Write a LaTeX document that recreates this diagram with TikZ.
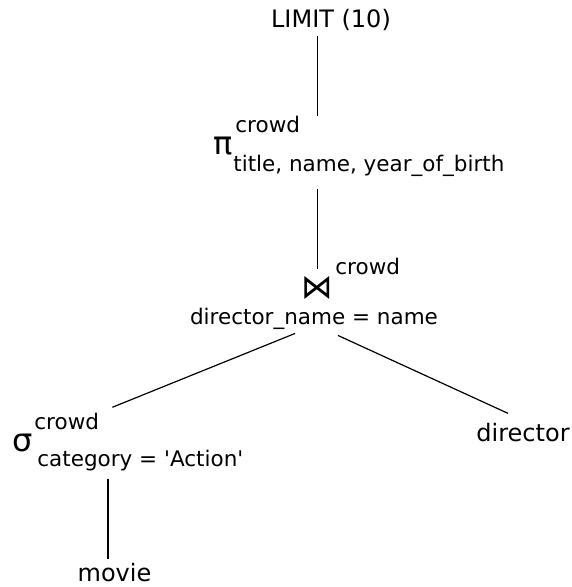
\documentclass[tikz,border=0pt]{standalone}
\usepackage{fontspec}
\setmainfont{DejaVu Sans}
\begin{document}
\begin{tikzpicture}[x=0.5pt,y=-0.5pt,
	lbl/.style={inner sep=0pt,font=\fontsize{12}{14}\selectfont},
	sml/.style={inner sep=0pt,font=\fontsize{10.75}{13}\selectfont},
	grk/.style={inner sep=0pt,font=\fontsize{16}{18}\selectfont},
	jn/.style={inner sep=0pt,font=\fontsize{15}{17}\selectfont},
	edge/.style={black,line width=0.6pt}]
	
	\useasboundingbox (0,0) rectangle (571,587);
	
	% limit
	\node[lbl,anchor=base] (limit) at (331,28) {LIMIT (10)};
	
	% projection
	\node[grk,anchor=base] (pi) at (223.5,155) {π};
	\node[sml,anchor=base west] (pisup) at (235,133) {crowd};
	\node[sml,anchor=base west] (pisub) at (233,172) {title, name, year\_of\_birth};
	
	% join
	\node[jn,anchor=base] (join) at (317.5,298) {\scalebox{1.05}[1.12]{⋈}};
	\node[sml,anchor=base west] (joinsup) at (335,274) {crowd};
	\node[sml,anchor=base] (joincond) at (314,324) {director\_name = name};
	
	% selection
	\node[grk,anchor=base] (sigma) at (23,451) {σ};
	\node[sml,anchor=base west] (sigsup) at (34,429) {crowd};
	\node[sml,anchor=base west] (sigsub) at (37,466) {category = \textquotesingle Action\textquotesingle};
	
	% relations
	\node[lbl,anchor=base] (director) at (523,441) {director};
	\node[lbl,anchor=base] (movie) at (114.5,581) {movie};
	
	\draw[edge][shorten <=2pt] (limit.south -| join) -- (pisup.north -| join);
	\draw[edge][shorten <=6pt] (pisub.south -| join) -- ([yshift=3.5pt]join.north);
	\draw[edge] ([xshift=-9.5pt,yshift=-2pt]joincond.south) -- ([xshift=6.5pt,yshift=2.5pt]sigsup.north east);
	\draw[edge] ([xshift=12pt,yshift=-3pt]joincond.south) -- ([xshift=-7.5pt,yshift=4.5pt]director.north);
	\draw[edge][shorten <=4pt,shorten >=1.5pt] ([xshift=-3.25pt]sigsub.south -| movie) -- ([xshift=-3.25pt]movie.north);
	
\end{tikzpicture}
\end{document}
